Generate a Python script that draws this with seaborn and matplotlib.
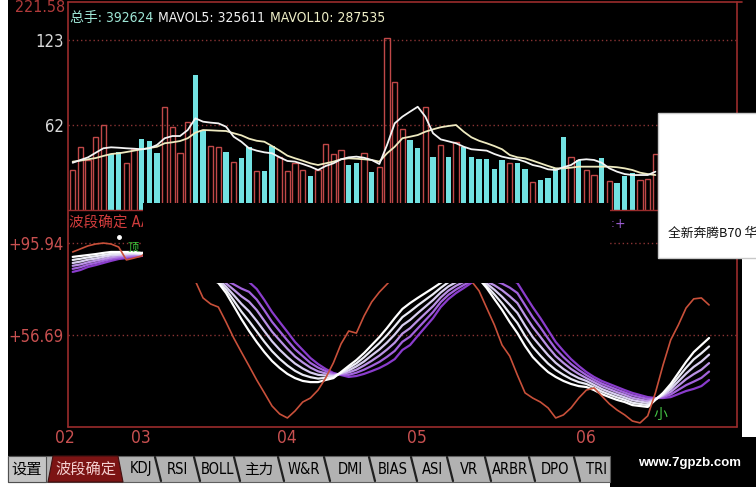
import numpy as np
import pandas as pd
import matplotlib
matplotlib.use("Agg")
import matplotlib.pyplot as plt
import seaborn as sns
from matplotlib.patches import Rectangle, Polygon
from matplotlib.lines import Line2D

# ---------------- data ----------------
volume = [29.7, 46.0, 36.9, 53.4, 62.0, 41.2, 42.8, 34.7, 44.8, 52.0,
          50.7, 41.9, 74.9, 60.8, 41.9, 64.4, 97.9, 58.4, 47.2, 46.0,
          42.8, 35.7, 38.1, 46.0, 29.0, 29.0, 47.2, 39.3, 29.0, 35.0,
          29.7, 25.6, 29.7, 48.4, 41.2, 44.1, 33.3, 35.0, 41.7, 28.1,
          32.1, 124.4, 93.1, 58.9, 51.2, 45.3, 75.1, 39.3, 47.7, 39.3,
          50.0, 46.0, 39.3, 37.4, 37.4, 30.2, 36.9, 35.0, 34.5, 30.4,
          20.9, 22.5, 23.8, 30.9, 53.2, 39.3, 36.9, 29.7, 26.1, 38.1,
          22.0, 20.2, 25.4, 27.3, 22.5, 23.0, 41.2]
direction = (["up"] * 5 + ["down"] * 2 + ["up"] * 2 + ["down"] * 3 +
             ["up"] * 4 + ["down"] * 2 + ["up"] * 2 +
             ["down", "up", "down", "down", "up", "down", "down", "up", "up", "up"] +
             ["up", "down", "up", "up", "up", "up", "down", "down", "up", "down"] +
             ["up", "up", "up", "up", "down", "down", "up", "down", "up", "down"] +
             ["up", "down", "down", "down", "down", "down", "down", "up", "down", "down"] +
             ["up", "down", "down", "down", "down", "up", "down", "up", "up", "down"] +
             ["up", "down", "down", "down", "up", "up", "up"])
mavol5 = [34.9, 36.9, 38.8, 42.1, 45.3, 46.0, 45.7, 45.3, 45.0, 44.6,
          45.3, 47.7, 52.5, 54.1, 54.1, 58.4, 66.8, 64.4, 63.7, 63.2,
          60.8, 53.6, 50.0, 45.3, 43.6, 42.4, 41.7, 38.8, 36.2, 35.7,
          34.0, 32.1, 29.7, 32.6, 34.5, 37.4, 38.8, 39.3, 38.5, 36.9,
          34.0, 47.7, 63.2, 68.0, 71.6, 75.1, 68.0, 56.1, 51.7, 50.3,
          48.9, 46.4, 44.6, 44.1, 43.6, 41.2, 39.3, 38.1, 37.4, 35.7,
          33.3, 32.1, 30.2, 29.7, 31.7, 33.3, 36.9, 37.4, 36.9, 34.9,
          30.9, 28.5, 26.8, 26.1, 26.1, 26.1, 28.5]
mavol10 = [35.7, 36.4, 37.4, 38.3, 39.8, 41.2, 41.7, 42.6, 43.6, 44.6,
           45.5, 46.4, 48.9, 49.6, 50.5, 52.5, 56.5, 58.4, 58.2, 57.9,
           57.7, 56.1, 54.6, 52.2, 50.7, 50.0, 46.9, 43.6, 40.0, 38.1,
           36.4, 34.5, 33.3, 34.5, 35.7, 37.4, 38.1, 37.8, 37.4, 36.9,
           35.7, 41.7, 46.4, 52.5, 53.6, 54.8, 57.2, 58.9, 60.4, 61.3,
           62.0, 57.2, 53.2, 50.7, 48.9, 46.9, 44.6, 40.5, 38.8, 38.1,
           36.4, 34.5, 32.6, 30.9, 30.9, 31.4, 32.1, 32.1, 32.1, 32.1,
           32.1, 31.7, 30.9, 29.7, 27.8, 26.8, 26.1]

osc = [92.1, 93.4, 94.7, 95.5, 95.9, 95.5, 94.2, 88.7, 89.5, 90.4,
       93.0, 95.0, 96.0, 94.0, 90.0, 84.0, 79.7, 72.5, 69.9, 68.6,
       62.2, 55.4, 49.4, 43.5, 37.5, 32.0, 26.4, 23.0, 21.3, 24.3,
       28.1, 29.8, 33.2, 38.4, 44.8, 52.9, 58.4, 57.5, 64.8, 70.8,
       75.0, 78.4, 82.0, 86.0, 89.0, 92.0, 94.0, 95.0, 95.0, 93.0,
       90.0, 85.0, 79.7, 75.5, 68.2, 61.0, 52.4, 47.7, 39.6, 32.0,
       29.8, 28.1, 25.6, 21.3, 22.6, 25.6, 29.8, 33.2, 34.1, 30.7,
       27.3, 24.7, 22.6, 20.0, 19.2, 22.2, 32.0, 43.9, 54.6, 61.0,
       68.2, 72.1, 72.5, 69.5]
fan1 = [90.0, 90.4, 90.8, 91.2, 91.7, 92.1, 92.1, 92.1, 92.1, 91.7,
        92.1, 92.1, 91.7, 90.4, 88.7, 86.6, 84.4, 82.3, 80.6, 78.9,
        74.6, 69.1, 63.5, 58.4, 53.7, 49.4, 45.6, 42.6, 40.1, 38.3,
        37.1, 36.6, 36.6, 37.5, 38.3, 40.9, 43.5, 46.0, 49.0, 52.4,
        55.8, 59.7, 63.9, 67.8, 70.3, 72.5, 74.6, 76.7, 78.9, 81.0,
        82.3, 83.1, 82.7, 80.6, 76.7, 72.0, 67.4, 62.2, 57.5, 52.0,
        47.3, 43.9, 40.9, 38.8, 37.1, 35.8, 34.9, 34.5, 33.2, 31.5,
        30.2, 29.0, 28.1, 26.8, 26.4, 26.0, 29.0, 32.0, 35.8, 40.5,
        45.2, 49.4, 52.4, 55.4]
fan2 = [88.7, 89.2, 89.8, 90.3, 90.8, 91.3, 91.5, 91.6, 91.7, 91.4,
        91.8, 91.8, 91.5, 90.4, 89.0, 87.1, 85.1, 83.1, 81.4, 79.7,
        76.0, 71.4, 66.7, 62.6, 58.2, 53.8, 49.8, 46.5, 43.7, 41.4,
        39.7, 38.7, 38.1, 38.4, 38.7, 40.6, 42.6, 44.6, 47.2, 50.2,
        53.2, 56.6, 60.4, 64.3, 66.7, 69.3, 71.7, 74.1, 76.8, 79.2,
        80.8, 81.8, 81.9, 80.6, 77.6, 74.0, 70.2, 65.9, 61.8, 56.3,
        51.6, 47.9, 44.5, 41.8, 39.7, 37.9, 36.6, 35.8, 34.3, 32.6,
        31.3, 30.1, 29.1, 27.8, 27.3, 26.8, 29.2, 31.6, 34.7, 38.7,
        42.7, 46.3, 48.9, 51.8]
fan3 = [87.4, 88.0, 88.8, 89.3, 90.0, 90.6, 90.9, 91.1, 91.3, 91.2,
        91.6, 91.6, 91.3, 90.4, 89.2, 87.6, 85.8, 83.8, 82.1, 80.4,
        77.3, 73.7, 70.0, 66.8, 62.7, 58.3, 54.0, 50.4, 47.3, 44.5,
        42.4, 40.7, 39.7, 39.4, 39.2, 40.4, 41.6, 43.3, 45.4, 48.0,
        50.5, 53.5, 56.9, 60.8, 63.1, 66.0, 68.8, 71.6, 74.8, 77.4,
        79.2, 80.5, 81.2, 80.6, 78.6, 76.0, 73.0, 69.6, 66.1, 60.7,
        55.8, 51.9, 48.1, 44.8, 42.2, 40.0, 38.3, 37.1, 35.4, 33.7,
        32.4, 31.2, 30.1, 28.9, 28.3, 27.7, 29.3, 31.1, 33.6, 36.9,
        40.2, 43.1, 45.4, 48.3]
fan4 = [86.2, 86.8, 87.7, 88.4, 89.1, 89.8, 90.3, 90.5, 90.8, 90.9,
        91.3, 91.3, 91.2, 90.4, 89.5, 88.1, 86.4, 84.6, 82.9, 81.2,
        78.7, 76.0, 73.2, 70.9, 67.3, 62.7, 58.1, 54.4, 50.8, 47.5,
        45.0, 42.8, 41.2, 40.3, 39.6, 40.1, 40.7, 41.9, 43.7, 45.7,
        47.9, 50.5, 53.4, 57.3, 59.6, 62.8, 65.9, 69.0, 72.7, 75.6,
        77.7, 79.3, 80.4, 80.6, 79.5, 77.9, 75.8, 73.2, 70.3, 65.0,
        60.1, 55.9, 51.6, 47.7, 44.8, 42.2, 40.1, 38.3, 36.6, 34.9,
        33.6, 32.3, 31.2, 29.9, 29.2, 28.5, 29.5, 30.7, 32.4, 35.1,
        37.8, 40.0, 41.9, 44.7]
fan5 = [84.9, 85.6, 86.7, 87.4, 88.3, 89.1, 89.7, 90.0, 90.4, 90.7,
        91.1, 91.1, 91.0, 90.4, 89.7, 88.6, 87.1, 85.3, 83.6, 81.9,
        80.0, 78.3, 76.5, 75.1, 71.8, 67.2, 62.3, 58.3, 54.4, 50.6,
        47.7, 44.8, 42.8, 41.3, 40.1, 39.9, 39.7, 40.6, 41.9, 43.5,
        45.2, 47.4, 49.9, 53.8, 56.0, 59.5, 63.0, 66.5, 70.7, 73.8,
        76.1, 78.0, 79.7, 80.6, 80.5, 79.9, 78.6, 76.9, 74.6, 69.4,
        64.3, 59.9, 55.2, 50.7, 47.3, 44.3, 41.8, 39.6, 37.7, 36.0,
        34.7, 33.4, 32.2, 31.0, 30.2, 29.4, 29.6, 30.2, 31.3, 33.3,
        35.3, 36.8, 38.4, 41.1]
fan6 = [83.6, 84.4, 85.7, 86.5, 87.4, 88.3, 89.1, 89.5, 90.0, 90.4,
        90.8, 90.8, 90.8, 90.4, 90.0, 89.1, 87.8, 86.1, 84.4, 82.7,
        81.4, 80.6, 79.7, 79.3, 76.3, 71.6, 66.5, 62.2, 58.0, 53.7,
        50.3, 46.9, 44.3, 42.2, 40.5, 39.6, 38.8, 39.2, 40.1, 41.3,
        42.6, 44.3, 46.4, 50.3, 52.4, 56.3, 60.1, 63.9, 68.6, 72.0,
        74.6, 76.7, 78.9, 80.6, 81.4, 81.9, 81.4, 80.6, 78.9, 73.7,
        68.6, 63.9, 58.8, 53.7, 49.9, 46.4, 43.5, 40.9, 38.8, 37.1,
        35.8, 34.5, 33.2, 32.0, 31.1, 30.2, 29.8, 29.8, 30.2, 31.5,
        32.8, 33.7, 34.9, 37.5]

month_labels = ["02", "03", "04", "05", "06"]
month_start = [0, 10, 29, 46, 68]
vol_ticks = [123, 62]
vol_tick_labels = ["123", "62"]
ind_ticks = [95.94, 56.69]
ind_tick_labels = ["+95.94", "+56.69"]
header_parts = ["总手: 392624", "MAVOL5: 325611", "MAVOL10: 287535"]
tab_labels = ["KDJ", "RSI", "BOLL", "主力", "W&R", "DMI", "BIAS", "ASI", "VR", "ARBR", "DPO", "TRI"]

# ---------------- style ----------------
sns.set_theme(style="dark", rc={"axes.facecolor": "black"})
FONTS = ["DejaVu Sans", "Noto Sans CJK SC"]
plt.rcParams["font.family"] = FONTS
plt.rcParams["font.stretch"] = "condensed"
CJK = ["Noto Sans CJK SC", "DejaVu Sans"]

RED_BAR = "#c04848"
CYAN = "#72e2e2"
FRAME = "#9a2c2c"
GRID = "#8a3434"
LBL_RED = "#c85050"
FAN_COLORS = ["#ffffff", "#ebebf5", "#d8cdf0", "#bb92e6", "#a262dc", "#8a3ccc"]

W, H = 756, 487
fig = plt.figure(figsize=(W / 100, H / 100), dpi=100, facecolor="white")


def fx(x):
    return x / W


def fy(y):
    return 1 - y / H


def frect(x0, y0, x1, y1, **kw):
    r = Rectangle((fx(x0), fy(y1)), (x1 - x0) / W, (y1 - y0) / H,
                  transform=fig.transFigure, **kw)
    fig.add_artist(r)
    return r


def fline(xs, ys, **kw):
    ln = Line2D([fx(x) for x in xs], [fy(y) for y in ys], transform=fig.transFigure, **kw)
    fig.add_artist(ln)
    return ln


# black background of the terminal window
frect(8, 0, 742, 456, facecolor="black", edgecolor="none", zorder=-5)
frect(742, 0, 756, 113, facecolor="black", edgecolor="none", zorder=-5)

XL, XR = 68, 737
X0, DX = 72.7, 7.667
xlim = ((XL - X0) / DX, (XR - X0) / DX)

# ---------------- volume panel ----------------
ax_vol = fig.add_axes([fx(XL), fy(210), (XR - XL) / W, (210 - 2) / H])
ax_vol.set_facecolor("black")
df_vol = pd.DataFrame({"idx": np.arange(len(volume)), "vol": volume, "dir": direction})
up = df_vol[df_vol["dir"] == "up"]
down = df_vol[df_vol["dir"] == "down"]
sns.barplot(data=up, x="idx", y="vol", native_scale=True, fill=False, color=RED_BAR,
            linewidth=1.0, width=0.7, errorbar=None, saturation=1, ax=ax_vol)
sns.barplot(data=down, x="idx", y="vol", native_scale=True, color=CYAN, linewidth=0,
            width=0.7, errorbar=None, saturation=1, ax=ax_vol)
for yv in vol_ticks:
    ax_vol.axhline(yv, color=GRID, lw=1.0, ls=(0, (1, 2)), zorder=0.5)
idx77 = np.arange(len(mavol5))
sns.lineplot(x=idx77, y=mavol10, ax=ax_vol, color="#eeeac0", lw=1.3, legend=False)
sns.lineplot(x=idx77, y=mavol5, ax=ax_vol, color="#f4f4f4", lw=1.3, legend=False)
ax_vol.set_xlim(*xlim)
ax_vol.set_ylim(1.0, 150.3)
ax_vol.set_xticks([])
ax_vol.set_yticks(vol_ticks)
ax_vol.set_yticklabels(vol_tick_labels)
ax_vol.tick_params(axis="y", length=0, pad=3, labelsize=12, labelcolor="#d8d8d8")
ax_vol.set_xlabel("")
ax_vol.set_ylabel("")
for s in ax_vol.spines.values():
    s.set_visible(False)

# ---------------- indicator panel ----------------
ax_ind = fig.add_axes([fx(XL), fy(427), (XR - XL) / W, (427 - 210) / H])
ax_ind.set_facecolor("black")
idx84 = np.arange(len(osc))
for yv in ind_ticks:
    ax_ind.axhline(yv, color=GRID, lw=1.0, ls=(0, (1, 2)), zorder=0.5)
for arr, col in zip([fan6, fan5, fan4, fan3, fan2, fan1], FAN_COLORS[::-1]):
    sns.lineplot(x=idx84, y=arr, ax=ax_ind, color=col, lw=1.6, legend=False)
sns.lineplot(x=idx84, y=osc, ax=ax_ind, color="#c8503a", lw=1.2, legend=False)
ax_ind.set_xlim(*xlim)
ax_ind.set_ylim(17.45, 110.0)
ax_ind.set_yticks(ind_ticks)
ax_ind.set_yticklabels(ind_tick_labels)
ax_ind.tick_params(axis="y", length=0, pad=3, labelsize=12, labelcolor=LBL_RED)
ax_ind.set_xticks(month_start[1:])
ax_ind.tick_params(axis="x", length=5, width=1, color=FRAME, direction="out", labelbottom=False)
ax_ind.set_xlabel("")
ax_ind.set_ylabel("")
for s in ax_ind.spines.values():
    s.set_visible(False)
for lab, m in zip(month_labels, month_start):
    ax_ind.annotate(lab, xy=(m, 0), xycoords=("data", "axes fraction"), xytext=(-8, -11),
                    textcoords="offset pixels", ha="center", va="center", color=LBL_RED,
                    fontsize=12.5, annotation_clip=False)
ax_ind.text(7.9, 94.0, "顶", color="#3cc83c", fontsize=8, ha="center", va="center",
            family=CJK)
ax_ind.plot([6.0], [98.4], marker="o", ms=2.5, color="white")
ax_ind.text(76.6, 22.6, "小", color="#46c846", fontsize=10, ha="center", va="center",
            family=CJK, zorder=6)

# ---------------- frame lines ----------------
fline([XL, XL], [2, 427], color=FRAME, lw=1.2, zorder=4)
fline([XL, 742], [2, 2], color=FRAME, lw=1.2, zorder=4)
fline([XL, XR], [210, 210], color=FRAME, lw=1.0, zorder=4)
fline([XL, XR], [427, 427], color=FRAME, lw=1.2, zorder=4)
fline([XR, XR], [2, 427], color=FRAME, lw=1.2, zorder=4)

# ---------------- overlays ----------------
frect(143, 203, 610, 283, facecolor="black", edgecolor="none", zorder=10)
frect(658, 113, 757, 258, facecolor="white", edgecolor="#c8c8c8", lw=1, zorder=11)
fig.text(fx(668), fy(233), "全新奔腾B70 华", color="#111111", fontsize=9.2,
         ha="left", va="center", family=CJK, zorder=20)
frect(610, 437, 757, 488, facecolor="black", edgecolor="none", zorder=11)
fig.text(fx(690), fy(463), "www.7gpzb.com", color="white", fontsize=9.5, weight="bold",
         ha="center", va="center", family=["Liberation Sans", "DejaVu Sans"],
         stretch="normal", zorder=20)

# labels / header
fig.text(fx(65), fy(8), "221.58", color="#b03a3a", fontsize=11.5, ha="right", va="center", zorder=20)
renderer = fig.canvas.get_renderer()
hcol = ["#9ee6d6", "#f2f2f2", "#f0f0c8"]
hxpos = 70.0
for t, c in zip(header_parts, hcol):
    txt = fig.text(fx(hxpos), fy(18), t, color=c, fontsize=10, ha="left", va="center", zorder=20)
    bb = txt.get_window_extent(renderer=renderer)
    hxpos += bb.width + 5
fig.text(fx(69), fy(223), "波段确定 AA1: 95.94", color="#d03c3c", fontsize=10.5,
         ha="left", va="center", zorder=9)
fig.text(fx(613), fy(224), ":", color="#9050c0", fontsize=9, ha="center", va="center", zorder=20)
fig.text(fx(620), fy(224), "+", color="#a060d8", fontsize=10, ha="center", va="center", zorder=20)

# ---------------- tab bar ----------------
frect(8, 456, 610, 482, facecolor="#b2b2b2", edgecolor="#606060", lw=0.8, zorder=11)
frect(8, 456, 46, 482, facecolor="#c4c4c4", edgecolor="#505050", lw=0.8, zorder=12)
fig.text(fx(27), fy(469), "设置", color="black", fontsize=11, ha="center", va="center",
         family=CJK, zorder=20)
tab = Polygon([(fx(48), fy(482)), (fx(53), fy(456)), (fx(118), fy(456)), (fx(123), fy(482))],
              closed=True, transform=fig.transFigure, facecolor="#7c1414", edgecolor="#401010",
              lw=0.8, zorder=12)
fig.add_artist(tab)
fig.text(fx(86), fy(469), "波段确定", color="#f4d0d0", fontsize=11, ha="center", va="center",
         family=CJK, zorder=20)
tab_x = [141, 177, 217, 259, 304, 350, 393, 432, 469, 510, 555, 597]
seps = [158, 197, 237, 281, 327, 372, 414, 450, 488, 532, 577]
for sx in seps:
    fline([sx - 3, sx + 3], [457, 481], color="#202020", lw=1.6, zorder=13)
for t, x in zip(tab_labels, tab_x):
    fig.text(fx(x), fy(469), t, color="black", fontsize=10.5, ha="center", va="center", zorder=20)

fig.savefig("out.png", dpi=100, facecolor="white")
